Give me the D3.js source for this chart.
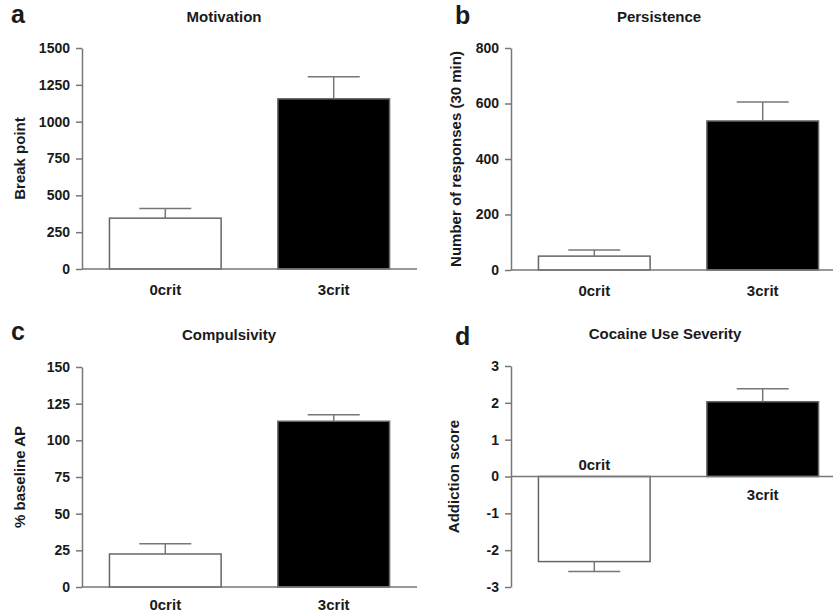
<!DOCTYPE html>
<html>
<head>
<meta charset="utf-8">
<script src="https://cdn.jsdelivr.net/npm/d3@7"></script>
<style>
  body { margin: 0; background: #fff; }
  text { font-family: "Liberation Sans", Arial, sans-serif; font-weight: bold; fill: #1a1a1a; }
  .axis path, .axis line { stroke: #777; stroke-width: 1.5; }
  .axis text { font-size: 14px; fill: #1a1a1a; }
</style>
</head>
<body>
<div id="chart-area"></div>
<script>
// data
var categories = ["0crit", "3crit"];

var motivation = [345, 1155],
    motivationErr = [65, 150],
    motivationTicks = [0, 250, 500, 750, 1000, 1250, 1500];

var persistence = [50, 537],
    persistenceErr = [22, 68],
    persistenceTicks = [0, 200, 400, 600, 800];

var compulsivity = [22.5, 113],
    compulsivityErr = [7, 4.5],
    compulsivityTicks = [0, 25, 50, 75, 100, 125, 150];

var severity = [-2.31, 2.03],
    severityErr = [0.27, 0.35],
    severityTicks = [-3, -2, -1, 0, 1, 2, 3];

var barFill = ["#fff", "#000"];

var svg = d3.select("#chart-area").append("svg")
    .attr("width", 833)
    .attr("height", 613);

// panel layout
var panels = [
    { letter: "a", title: "Motivation", ylabel: "Break point",
      values: motivation, err: motivationErr, ticks: motivationTicks,
      left: 82, top: 48, bottom: 269, right: 417,
      letterX: 11, letterY: 23, titleX: 224, titleY: 22, ylabelX: 25, labelY: 295 },
    { letter: "b", title: "Persistence", ylabel: "Number of responses (30 min)",
      values: persistence, err: persistenceErr, ticks: persistenceTicks,
      left: 511, top: 48, bottom: 270, right: 846,
      letterX: 455, letterY: 24, titleX: 659, titleY: 22, ylabelX: 461, labelY: 296 },
    { letter: "c", title: "Compulsivity", ylabel: "% baseline AP",
      values: compulsivity, err: compulsivityErr, ticks: compulsivityTicks,
      left: 82, top: 367, bottom: 587, right: 417,
      letterX: 11, letterY: 340, titleX: 229, titleY: 340, ylabelX: 25, labelY: 610 },
    { letter: "d", title: "Cocaine Use Severity", ylabel: "Addiction score",
      values: severity, err: severityErr, ticks: severityTicks,
      left: 511, top: 366, bottom: 587, right: 846,
      letterX: 455, letterY: 345, titleX: 665, titleY: 339, ylabelX: 459, labelY: null }
];

panels.forEach(function(p) {
    var g = svg.append("g");

    var x = d3.scaleBand()
        .domain(categories)
        .range([p.left, p.right])
        .paddingInner(0.337)
        .paddingOuter(0.163);

    var y = d3.scaleLinear()
        .domain(d3.extent(p.ticks))
        .range([p.bottom, p.top]);

    // letter + title
    g.append("text")
        .attr("x", p.letterX)
        .attr("y", p.letterY)
        .style("font-size", "25px")
        .text(p.letter);

    g.append("text")
        .attr("x", p.titleX)
        .attr("y", p.titleY)
        .attr("text-anchor", "middle")
        .style("font-size", "15px")
        .text(p.title);

    // y axis label
    g.append("text")
        .attr("transform", "rotate(-90)")
        .attr("x", -(p.top + p.bottom) / 2)
        .attr("y", p.ylabelX)
        .attr("text-anchor", "middle")
        .style("font-size", "15px")
        .text(p.ylabel);

    // bars
    var data = categories.map(function(c, i) {
        return { cat: c, value: p.values[i], err: p.err[i], fill: barFill[i] };
    });

    g.selectAll(".bar")
        .data(data)
        .enter()
        .append("rect")
        .attr("class", "bar")
        .attr("x", d => x(d.cat))
        .attr("width", x.bandwidth())
        .attr("y", d => Math.min(y(d.value), y(0)))
        .attr("height", d => Math.abs(y(d.value) - y(0)))
        .attr("fill", d => d.fill)
        .attr("stroke", "#666")
        .attr("stroke-width", 1.5);

    // error bars (one sided, away from zero)
    var capHalf = 26;
    var errs = g.selectAll(".err")
        .data(data)
        .enter()
        .append("g")
        .attr("class", "err");

    errs.append("line")
        .attr("x1", d => x(d.cat) + x.bandwidth() / 2)
        .attr("x2", d => x(d.cat) + x.bandwidth() / 2)
        .attr("y1", d => y(d.value))
        .attr("y2", d => y(d.value + (d.value < 0 ? -d.err : d.err)))
        .attr("stroke", d => d.fill == "#000" ? "#777" : "#777")
        .attr("stroke-width", 1.5);

    errs.append("line")
        .attr("x1", d => x(d.cat) + x.bandwidth() / 2 - capHalf)
        .attr("x2", d => x(d.cat) + x.bandwidth() / 2 + capHalf)
        .attr("y1", d => y(d.value + (d.value < 0 ? -d.err : d.err)))
        .attr("y2", d => y(d.value + (d.value < 0 ? -d.err : d.err)))
        .attr("stroke", "#777")
        .attr("stroke-width", 1.5);

    // axes
    var yAxis = d3.axisLeft(y)
        .tickValues(p.ticks)
        .tickFormat(d => String(d))
        .tickSize(6)
        .tickPadding(6)
        .tickSizeOuter(0);

    g.append("g")
        .attr("class", "axis")
        .attr("transform", "translate(" + p.left + ",0)")
        .call(yAxis);

    g.append("line")
        .attr("x1", p.left)
        .attr("x2", Math.min(p.right, 833))
        .attr("y1", y(0))
        .attr("y2", y(0))
        .attr("stroke", "#777")
        .attr("stroke-width", 1.5);

    // category labels
    g.selectAll(".cat")
        .data(data)
        .enter()
        .append("text")
        .attr("class", "cat")
        .attr("x", d => x(d.cat) + x.bandwidth() / 2)
        .attr("y", function(d) {
            if (p.labelY != null) return p.labelY;
            return d.value < 0 ? y(0) - 7 : y(0) + 23;
        })
        .attr("text-anchor", "middle")
        .style("font-size", "15px")
        .text(d => d.cat);
});
</script>
</body>
</html>
